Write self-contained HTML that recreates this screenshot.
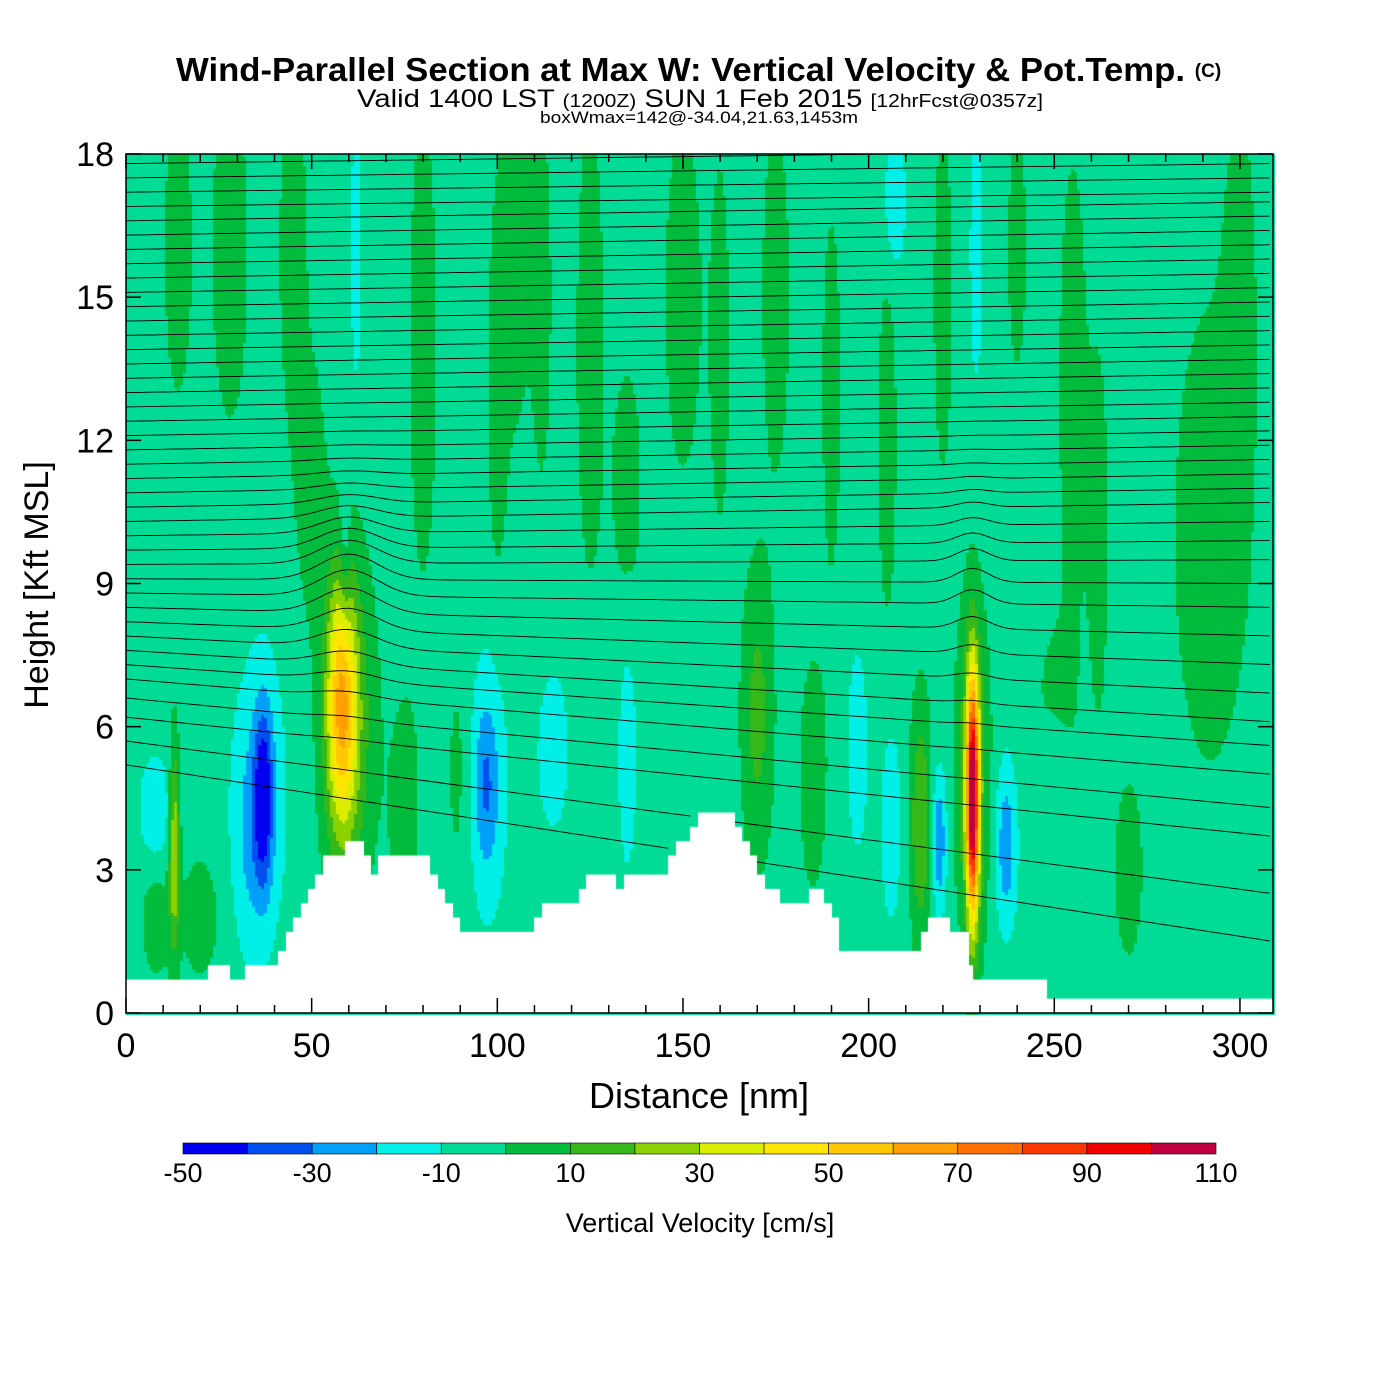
<!DOCTYPE html>
<html><head><meta charset="utf-8"><style>
body{margin:0;background:#fff;font-family:"Liberation Sans",sans-serif}
#wrap{position:relative;width:1400px;height:1400px}
canvas,svg{position:absolute;left:0;top:0}
</style></head><body>
<div id="wrap">
<canvas id="cv" width="1400" height="1400"></canvas>
<svg id="sv" width="1400" height="1400"></svg>
</div>
<script>
// ---- data ----
const xTicks=[0,50,100,150,200,250,300];
const yTicks=[0,3,6,9,12,15,18];
const cbLabels=[-50,-30,-10,10,30,50,70,90,110];
const cbColors=['#0000f0','#0050f0','#00a0f8','#00f0e8','#00dc96','#00bb3c','#35b81a','#8cd200','#dcee00','#ffe600','#ffc800','#ffa000','#ff7000','#ff3800','#f00000','#c00040'];
const terrainDist=[0,22,28,32,41,43,45,47,49,51,53,55,57,59,64,66,68,82,84,86,88,90,91,110,112,114,122,124,132,134,146,148,150,152,154,158,164,166,168,170,172,174,176,178,184,188,190,192,214,216,222,227,228,248,309];
const terrainHt=[0.7,1.0,0.7,1.0,1.3,1.7,2.0,2.3,2.6,2.9,3.3,3.3,3.3,3.6,3.3,2.9,3.3,2.9,2.6,2.3,2.0,1.7,1.7,2.0,2.3,2.3,2.6,2.9,2.6,2.9,3.3,3.6,3.6,3.9,4.2,4.2,3.9,3.6,3.3,2.9,2.6,2.6,2.3,2.3,2.6,2.3,2.0,1.3,1.7,2.0,1.7,1.0,0.7,0.3,0.3];
const blobX=[14,28,45,50,80,105,125,150,135,175,190,205,220,240,255,262,292,300,170,185,250,270,20,8,37,36,33,58,60,13,8,97,97,115,135,228,228,219,214,237,197,206,170,250,90,75,59,207,229,62,100,112,160];
const blobY=[16,16,16,11,14,16,14,15,11,15,13,12,15,16,13,10,10,15,7,5,6,3,2,2,4.5,4.5,3.5,6.5,6,3.5,4.2,4.8,4.8,5.5,5.5,4.5,5,3.6,4,3.5,5.5,4,5.5,5,5,4,9.5,17,16,16,13,15,14];
const blobW=[10,10,10,10,10,10,10,10,10,10,10,10,10,10,10,10,10,10,10,10,10,10,10,10,-35,-14,-8,52,22,35,-15,-20,-8,-12,-10,100,25,-25,25,-22,-12,-12,10,-12,8,10,-13,-15,-12,-12,10,10,10];
const blobSx=[3,4,3,3,3,3,3,4,3,3,2,2,2,2,3,2,8,3,3,3,4,3,4,3,1.8,5,3,2.8,5,1,3,3.5,1.8,3,2,1.2,3,1.3,2,2,2,2,3,3,3,3,1,2,1.2,1,2,2,2];
const blobSy=[2.5,3,3,2,4,3,4,3,2,3,3,3,3,2,4,3,4,3,2,2,1.5,1.5,1,1,1.3,2.2,1.5,1.8,2.6,1.5,0.8,1.8,0.9,1.2,2,1.8,2.5,1.0,1.8,1.2,1.5,1.5,2,1,2,2,1.5,1,2,2,3,3,3];
const thetaLeft=[5.2,5.7,6.2,6.6,7.0,7.3,7.6,7.9,8.2,8.5,8.8,9.1,9.4,9.7,10.0,10.3,10.6,10.9,11.2,11.5,11.8,12.1,12.4,12.7,13.0,13.3,13.6,13.9,14.2,14.5,14.8,15.1,15.4,15.7,16.0,16.3,16.6,16.9,17.2,17.5,17.8];
const thetaRight=[1.5,2.5,3.7,4.3,5.0,5.6,6.1,6.7,7.3,7.9,8.5,9.0,9.5,9.9,10.3,10.7,11.0,11.3,11.6,11.9,12.2,12.5,12.8,13.1,13.4,13.7,14.0,14.3,14.6,14.9,15.2,15.5,15.8,16.1,16.4,16.7,17.0,17.2,17.5,17.8,18.1];
// ---- axes ----
const X0=126,X1=1273,Y0=1013,Y1=154,XMAX=308.9,YMAX=18;
const sx=d=>X0+d*(X1-X0)/XMAX, sy=h=>Y0-h*(Y0-Y1)/YMAX;
const ix=px=>(px-X0)*XMAX/(X1-X0), iy=py=>(Y0-py)*YMAX/(Y0-Y1);
function terr(d){let h=terrainHt[0];for(let i=0;i<terrainDist.length;i++){if(d>=terrainDist[i])h=terrainHt[i];}return h;}
function field(d,h){let v=-5;for(let i=0;i<blobX.length;i++){const a=(d-blobX[i])/blobSx[i],b=(h-blobY[i])/blobSy[i];const e=a*a+b*b;if(e<12)v+=blobW[i]*Math.exp(-0.5*e);}return v;}
function colorFor(v){let k=Math.floor((v+50)/10);k=Math.max(0,Math.min(15,k));return cbColors[k];}
const ctx=document.getElementById('cv').getContext('2d');
const st=3;
for(let px=X0;px<X1;px+=st){const d=ix(px+st/2);for(let py=Y1;py<Y0;py+=st){const h=iy(py+st/2);ctx.fillStyle=colorFor(field(d,h));ctx.fillRect(px,py,st,st);}}
ctx.fillStyle='#fff';
for(let px=X0;px<X1;px++){const h=terr(ix(px+0.5));const t=sy(h);ctx.fillRect(px,t,1,Y0-t);}
// ---- svg ----
const NS='http://www.w3.org/2000/svg',sv=document.getElementById('sv');
function el(t,a,p){const e=document.createElementNS(NS,t);for(const k in a)e.setAttribute(k,a[k]);(p||sv).appendChild(e);return e;}
const cg=el('g',{});


for(let i=0;i<thetaLeft.length;i++){
  let pts=[],segs=[];
  for(let d=0;d<=XMAX;d+=2){const f=d/XMAX;let h=thetaLeft[i]*(1-f)+thetaRight[i]*f;
    const bw=Math.exp(-Math.pow((h-8.8)/1.8,2));h+=0.55*bw*Math.exp(-Math.pow((d-60)/11,2))+0.3*bw*Math.exp(-Math.pow((d-228)/6,2));
    if(h>terr(d)&&h<YMAX){pts.push(sx(d).toFixed(1)+','+sy(h).toFixed(1));}else{if(pts.length>1)segs.push(pts);pts=[];}}
  if(pts.length>1)segs.push(pts);
  segs.forEach(s=>{const l=el('polyline',{points:s.join(' '),fill:'none',stroke:'#000','stroke-width':0.9},cg);
    
    });
}
const fr=el('rect',{x:X0,y:Y1,width:X1-X0,height:Y0-Y1,fill:'none',stroke:'#000','stroke-width':1.5});


for(let d=0;d<=XMAX;d+=10){const L=d%50===0?15:8;el('line',{x1:sx(d),x2:sx(d),y1:Y0,y2:Y0-L,stroke:'#000','stroke-width':1.5});el('line',{x1:sx(d),x2:sx(d),y1:Y1,y2:Y1+L,stroke:'#000','stroke-width':1.5});}
xTicks.forEach(v=>{const t=el('text',{x:sx(v),y:1057,'font-size':34,'text-anchor':'middle'});t.textContent=v;
  
  });
yTicks.forEach(v=>{el('line',{x1:X0,x2:X0+15,y1:sy(v),y2:sy(v),stroke:'#000','stroke-width':1.5});el('line',{x1:X1,x2:X1-15,y1:sy(v),y2:sy(v),stroke:'#000','stroke-width':1.5});
  const t=el('text',{x:114,y:sy(v)+12,'font-size':34,'text-anchor':'end'});t.textContent=v;
  
  });
function txt(s,a,name){const t=el('text',a);t.textContent=s;return t;}
txt('Distance [nm]',{x:699,y:1108,'font-size':36,'text-anchor':'middle'},'x-axis-title');
txt('Height [Kft MSL]',{x:48,y:585,'font-size':34,'text-anchor':'middle',transform:'rotate(-90 48 585)'},'y-axis-title');
txt('Wind-Parallel Section at Max W: Vertical Velocity & Pot.Temp.',{x:176,y:81,'font-size':33,'font-weight':'bold',textLength:1009,lengthAdjust:'spacingAndGlyphs'},'chart-title');
txt('(C)',{x:1208,y:77,'font-size':19,'font-weight':'bold','text-anchor':'middle'},'copyright');
const s2=el('text',{x:357,y:107,'font-size':25,textLength:686,lengthAdjust:'spacingAndGlyphs'});


s2.innerHTML='Valid 1400 LST <tspan font-size="18">(1200Z)</tspan> SUN 1 Feb 2015 <tspan font-size="18">[12hrFcst@0357z]</tspan>';
txt('boxWmax=142@-34.04,21.63,1453m',{x:540,y:123,'font-size':17,textLength:318,lengthAdjust:'spacingAndGlyphs'},'subtitle-box-wmax');
const cbx0=183,cbx1=1216,cw=(cbx1-cbx0)/cbColors.length;
cbColors.forEach((c,i)=>{const r=el('rect',{x:cbx0+i*cw,y:1143,width:cw,height:11,fill:c,stroke:'#000','stroke-width':0.6});
  
  });
cbLabels.forEach(v=>{txt(v,{x:cbx0+(v+50)/10*cw,y:1182,'font-size':27,'text-anchor':'middle'},'colorbar-label');});
txt('Vertical Velocity [cm/s]',{x:700,y:1232,'font-size':27,'text-anchor':'middle'},'colorbar-title');
</script>
</body></html>
